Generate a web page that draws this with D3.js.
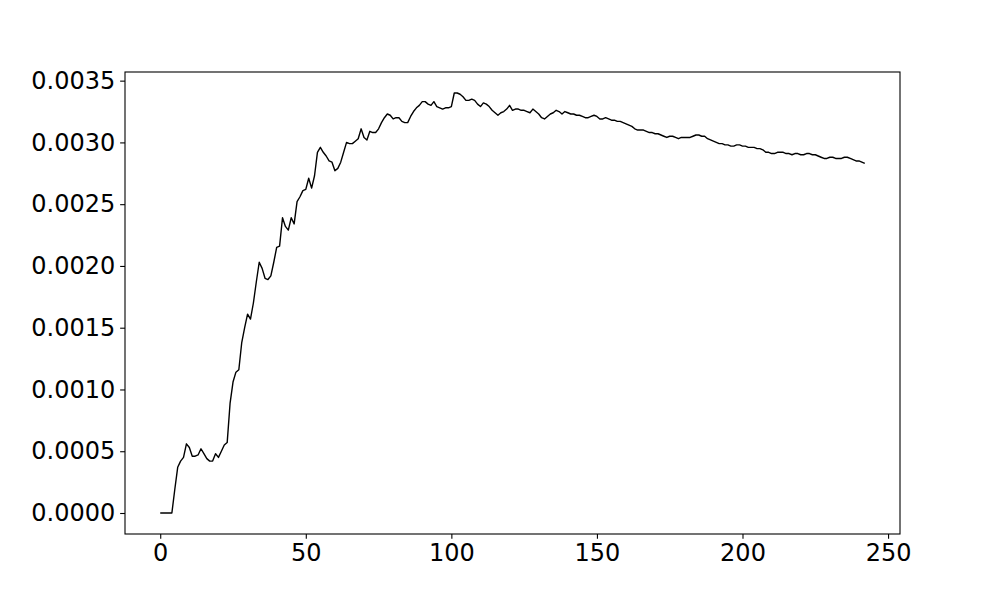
<!DOCTYPE html>
<html>
<head>
<meta charset="utf-8">
<script src="https://cdn.jsdelivr.net/npm/d3@7"></script>
<style>
    body { margin: 0; background: #fff; }
    svg { display: block; }
    .tick text { font-family: "DejaVu Sans", sans-serif; font-size: 24px; fill: #000; }
    .tick line { stroke: #000; stroke-width: 1.1px; }
    .domain { display: none; }
</style>
</head>
<body>
<div id="chart"></div>
<script>
// Values, one per step (index 0..242)
const seriesValues = [
    0, 0, 0, 0, 0, 0.00019, 0.00037, 0.00042, 0.00045, 0.00056,
    0.00053, 0.00046, 0.00046, 0.00047, 0.00052, 0.00048, 0.00044, 0.00042, 0.00042, 0.00048,
    0.00045, 0.00050, 0.00055, 0.00057, 0.00089, 0.00106, 0.00114, 0.00116, 0.00138, 0.00150,
    0.00161, 0.00157, 0.00170, 0.00187, 0.00203, 0.00198, 0.00190, 0.00189, 0.00192, 0.00203,
    0.00215, 0.00216, 0.00239, 0.00232, 0.00229, 0.00239, 0.00234, 0.00252, 0.00256, 0.00261,
    0.00262, 0.00271, 0.00263, 0.00273, 0.00292, 0.00296, 0.00292, 0.00289, 0.00285, 0.00284,
    0.00277, 0.00279, 0.00284, 0.00292, 0.00300, 0.00299, 0.00299, 0.00301, 0.00303, 0.00311,
    0.00304, 0.00302, 0.00309, 0.00308, 0.00308, 0.00311, 0.00316, 0.00320, 0.00323, 0.00322,
    0.00319, 0.00320, 0.00320, 0.00317, 0.00316, 0.00316, 0.00321, 0.00325, 0.00328, 0.00330,
    0.00333, 0.00333, 0.00331, 0.00330, 0.00333, 0.00329, 0.00328, 0.00327, 0.00328, 0.00328,
    0.00329, 0.00340, 0.00340, 0.00339, 0.00337, 0.00334, 0.00334, 0.00335, 0.00334, 0.00331,
    0.00329, 0.00332, 0.00331, 0.00329, 0.00326, 0.00324, 0.00322, 0.00324, 0.00325, 0.00327,
    0.00330, 0.00326, 0.00327, 0.00327, 0.00326, 0.00326, 0.00325, 0.00324, 0.00327, 0.00325,
    0.00323, 0.00320, 0.00319, 0.00321, 0.00323, 0.00324, 0.00326, 0.00325, 0.00323, 0.00325,
    0.00324, 0.00323, 0.00323, 0.00322, 0.00322, 0.00321, 0.00320, 0.00320, 0.00321, 0.00322,
    0.00321, 0.00319, 0.00319, 0.00320, 0.00319, 0.00318, 0.00318, 0.00317, 0.00317, 0.00316,
    0.00315, 0.00314, 0.00313, 0.00311, 0.00310, 0.00310, 0.00310, 0.00309, 0.00308, 0.00308,
    0.00307, 0.00307, 0.00306, 0.00305, 0.00304, 0.00305, 0.00305, 0.00304, 0.00303, 0.00304,
    0.00304, 0.00304, 0.00304, 0.00305, 0.00306, 0.00306, 0.00305, 0.00305, 0.00303, 0.00302,
    0.00301, 0.00300, 0.00299, 0.00299, 0.00298, 0.00298, 0.00297, 0.00297, 0.00298, 0.00298,
    0.00297, 0.00297, 0.00296, 0.00296, 0.00296, 0.00295, 0.00295, 0.00294, 0.00292, 0.00292,
    0.00291, 0.00291, 0.00292, 0.00292, 0.00292, 0.00291, 0.00291, 0.00290, 0.00291, 0.00291,
    0.00290, 0.00290, 0.00291, 0.00291, 0.00290, 0.00290, 0.00289, 0.00288, 0.00287, 0.00287,
    0.00288, 0.00288, 0.00287, 0.00287, 0.00287, 0.00288, 0.00288, 0.00287, 0.00286, 0.00285,
    0.00285, 0.00284, 0.00283
];

const xTicks = [0, 50, 100, 150, 200, 250];
const yTicks = [0, 0.0005, 0.0010, 0.0015, 0.0020, 0.0025, 0.0030, 0.0035];

const totalWidth = 1000;
const totalHeight = 600;
const margin = { top: 72, right: 100, bottom: 66, left: 125 };
const width = totalWidth - margin.left - margin.right;
const height = totalHeight - margin.top - margin.bottom;

const svg = d3.select('#chart').append('svg')
    .attr('width', totalWidth)
    .attr('height', totalHeight);

const g = svg.append('g')
    .attr('transform', `translate(${margin.left},${margin.top})`);

// 5% padding on both axes, like the original plot
const xMax = seriesValues.length - 1;
const xPad = xMax * 0.05;
const yMin = d3.min(seriesValues);
const yMax = d3.max(seriesValues);
const yPad = (yMax - yMin) * 0.05;

const xScale = d3.scaleLinear()
    .domain([-xPad, xMax + xPad])
    .range([0, width]);

const yScale = d3.scaleLinear()
    .domain([yMin - yPad, yMax + yPad])
    .range([height, 0]);

const tickLen = 4.86;

g.append('g')
    .attr('class', 'x-axis')
    .attr('transform', `translate(0,${height})`)
    .call(d3.axisBottom(xScale)
        .tickValues(xTicks)
        .tickSize(tickLen)
        .tickPadding(tickLen)
        .tickFormat(d3.format('d')));

g.append('g')
    .attr('class', 'y-axis')
    .call(d3.axisLeft(yScale)
        .tickValues(yTicks)
        .tickSize(tickLen)
        .tickPadding(tickLen)
        .tickFormat(d3.format('.4f')));

// Line
const line = d3.line()
    .x((d, i) => xScale(i))
    .y(d => yScale(d));

g.append('path')
    .datum(seriesValues)
    .attr('fill', 'none')
    .attr('stroke', '#000')
    .attr('stroke-width', 1.4)
    .attr('stroke-linejoin', 'round')
    .attr('d', line);

// Frame
g.append('rect')
    .attr('width', width)
    .attr('height', height)
    .attr('fill', 'none')
    .attr('stroke', '#000')
    .attr('stroke-width', 1.1);
</script>
</body>
</html>
